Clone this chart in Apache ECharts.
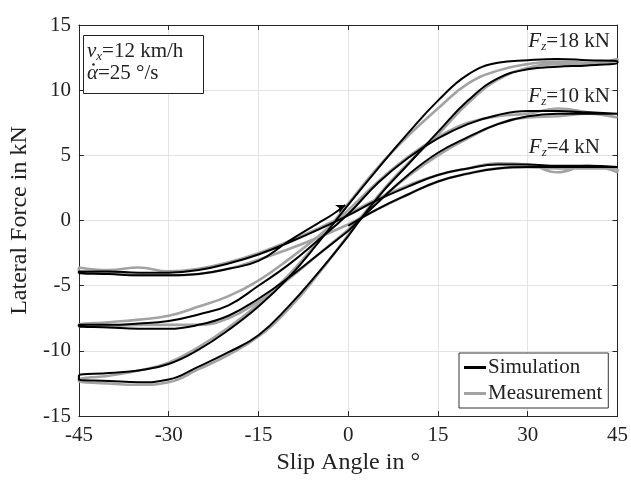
<!DOCTYPE html>
<html>
<head>
<meta charset="utf-8">
<script src="https://cdn.jsdelivr.net/npm/echarts@6/dist/echarts.min.js"></script>
<style>html,body{margin:0;padding:0;background:#fff}#c{width:631px;height:480px}</style>
</head>
<body>
<div id="c"></div>
<script>
// slip angle grid (deg)
const alpha = [-45,-40,-35,-30,-25,-20,-15,-10,-5,0,5,10,15,20,25,30,35,40,45];
// Simulation, Fz = 18 kN
const sim18Upper = [-11.9,-11.7,-11.5,-11.0,-9.9,-8.4,-6.6,-4.4,-1.7,1.2,4.0,6.7,9.2,11.2,12.1,12.3,12.4,12.3,12.2];
const sim18Lower = [-12.2,-12.3,-12.4,-12.2,-11.2,-10.1,-8.8,-6.6,-4.0,-1.2,1.8,4.3,6.8,9.2,10.9,11.6,11.8,11.9,12.1];
// Simulation, Fz = 10 kN
const sim10Upper = [-8.0,-8.0,-7.9,-7.7,-7.2,-6.5,-5.0,-3.4,-1.5,0.5,2.9,4.8,6.3,7.4,8.1,8.4,8.4,8.3,8.2];
const sim10Lower = [-8.1,-8.2,-8.3,-8.3,-8.0,-7.3,-6.0,-4.4,-2.6,-0.8,1.4,3.5,5.2,6.4,7.4,8.0,8.2,8.2,8.2];
// Simulation, Fz = 4 kN
const sim4Upper = [-3.9,-3.9,-4.0,-4.0,-3.8,-3.3,-2.6,-1.7,-0.7,0.4,1.6,2.6,3.5,4.0,4.3,4.3,4.2,4.2,4.1];
const sim4Lower = [-4.0,-4.1,-4.2,-4.2,-4.1,-3.7,-3.1,-2.3,-1.4,-0.4,0.9,2.0,3.0,3.6,4.0,4.1,4.1,4.1,4.1];
// final run-in of the 4 kN simulation (ends with arrow)
const sim4TailX = [-10,-5,-2.5,-0.5];
const sim4TailY = [-1.6,-0.2,0.5,1.2];
// Measurement, Fz = 18 kN
const meas18Upper = [-12.2,-11.9,-11.5,-10.9,-9.7,-8.2,-6.4,-4.2,-1.6,1.3,4.1,6.5,8.6,10.5,11.5,12.0,12.2,12.1,12.4];
const meas18Lower = [-12.3,-12.5,-12.6,-12.4,-11.4,-10.3,-8.9,-6.8,-4.1,-1.1,1.9,4.4,6.6,9.0,10.8,11.7,12.0,12.0,12.3];
// Measurement, Fz = 10 kN
const meas10Upper = [-8.0,-7.8,-7.6,-7.3,-6.6,-5.8,-4.6,-3.0,-1.2,0.8,3.0,4.9,6.4,7.5,8.0,8.2,8.6,8.3,7.9];
const meas10Lower = [-8.1,-8.1,-8.0,-8.0,-8.0,-7.5,-6.2,-4.5,-2.6,-0.7,1.5,3.4,5.0,6.3,7.4,7.9,8.0,8.2,7.9];
// Measurement, Fz = 4 kN
const meas4Upper = [-3.6,-3.8,-3.6,-3.9,-3.7,-3.2,-2.5,-1.6,-0.6,0.5,1.7,2.7,3.5,4.0,4.4,4.3,3.7,4.2,3.7];
const meas4Lower = [-4.0,-4.0,-4.2,-4.2,-4.1,-3.7,-3.0,-2.2,-1.3,-0.3,0.9,2.0,3.0,3.6,4.0,4.1,4.0,4.0,3.9];

const xTicks = {min:-45, max:45, interval:15};
const yTicks = {min:-15, max:15, interval:5};

const FONT = '"Liberation Serif", "DejaVu Serif", serif';
const iZero = alpha.indexOf(0);

function pts(xs, ys, from, to) {
  const out = [];
  if (from <= to) { for (let i = from; i <= to; i++) out.push([xs[i], ys[i]]); }
  else { for (let i = from; i >= to; i--) out.push([xs[i], ys[i]]); }
  return out;
}
// 0 -> +45 on lower, +45 -> -45 on upper, -45 -> 0 on lower
function loop(lower, upper, endIdx) {
  const n = alpha.length - 1;
  return [].concat(
    pts(alpha, lower, iZero, n),
    pts(alpha, upper, n, 0),
    pts(alpha, lower, 0, endIdx === undefined ? iZero : endIdx)
  );
}

const SIM_C = '#000000', MEAS_C = '#a3a3a3';
function mkLine(name, data, color, width, extra) {
  return Object.assign({
    name: name, type: 'line', data: data, showSymbol: false, symbol: 'none',
    smooth: 0.45, clip: true, color: color,
    lineStyle: {color: color, width: width}, z: name === 'Simulation' ? 3 : 2
  }, extra || {});
}

const sim4Path = loop(sim4Lower, sim4Upper, alpha.indexOf(-15))
  .concat(sim4TailX.map((x, i) => [x, sim4TailY[i]]));
const tailEnd = [sim4TailX[sim4TailX.length - 1], sim4TailY[sim4TailY.length - 1]];

const series = [
  mkLine('Measurement', loop(meas18Lower, meas18Upper), MEAS_C, 2.6),
  mkLine('Measurement', loop(meas10Lower, meas10Upper), MEAS_C, 2.6),
  mkLine('Measurement', loop(meas4Lower, meas4Upper), MEAS_C, 2.6),
  mkLine('Simulation', loop(sim18Lower, sim18Upper), SIM_C, 2),
  mkLine('Simulation', loop(sim10Lower, sim10Upper), SIM_C, 2),
  mkLine('Simulation', sim4Path, SIM_C, 2, {
    markPoint: {
      silent: true,
      data: [{coord: tailEnd, symbol: 'arrow', symbolSize: [7, 9], symbolRotate: -62,
              itemStyle: {color: SIM_C}, label: {show: false}}]
    }
  })
];

function richLabel(text) {
  return {
    text: text,
    rich: {
      it: {fontFamily: FONT, fontStyle: 'italic', fontSize: 21, lineHeight: 22, fill: '#222'},
      sub: {fontFamily: FONT, fontStyle: 'italic', fontSize: 13, lineHeight: 22, padding: [10, 0, 0, 0], fill: '#222'},
      n: {fontFamily: FONT, fontSize: 21, lineHeight: 22, fill: '#222'}
    }
  };
}

const axisLineStyle = {color: '#262626', width: 1};
const chart = echarts.init(document.getElementById('c'), null, {renderer: 'canvas'});
chart.setOption({
  animation: false,
  backgroundColor: '#fff',
  grid: {left: 74, right: 13, top: 25, bottom: 61},
  xAxis: [
    Object.assign({type: 'value', position: 'bottom',
      name: 'Slip Angle in °', nameLocation: 'middle', nameGap: 34,
      nameTextStyle: {fontFamily: FONT, fontSize: 24, color: '#222'},
      axisLine: {onZero: false, lineStyle: axisLineStyle},
      axisTick: {inside: true, length: 5, lineStyle: axisLineStyle},
      axisLabel: {fontFamily: FONT, fontSize: 21, color: '#222', margin: 9},
      splitLine: {show: true, lineStyle: {color: '#e3e3e3', width: 1}}}, xTicks),
    Object.assign({type: 'value', position: 'top',
      axisLine: {onZero: false, lineStyle: axisLineStyle},
      axisTick: {inside: true, length: 5, lineStyle: axisLineStyle},
      axisLabel: {show: false}, splitLine: {show: false}}, xTicks)
  ],
  yAxis: [
    Object.assign({type: 'value', position: 'left',
      name: 'Lateral Force in kN', nameLocation: 'middle', nameGap: 43,
      nameTextStyle: {fontFamily: FONT, fontSize: 24, color: '#222'},
      axisLine: {onZero: false, lineStyle: axisLineStyle},
      axisTick: {inside: true, length: 5, lineStyle: axisLineStyle},
      axisLabel: {fontFamily: FONT, fontSize: 21, color: '#222', margin: 8},
      splitLine: {show: true, lineStyle: {color: '#e3e3e3', width: 1}}}, yTicks),
    Object.assign({type: 'value', position: 'right',
      axisLine: {onZero: false, lineStyle: axisLineStyle},
      axisTick: {inside: true, length: 5, lineStyle: axisLineStyle},
      axisLabel: {show: false}, splitLine: {show: false}}, yTicks)
  ],
  legend: {
    data: ['Simulation', 'Measurement'],
    orient: 'vertical', left: 459, top: 353,
    backgroundColor: '#fff', borderColor: '#333', borderWidth: 1, borderRadius: 0,
    padding: [4, 6, 4, 5], itemGap: 5, itemWidth: 22, itemHeight: 3, icon: 'rect',
    textStyle: {fontFamily: FONT, fontSize: 21, color: '#222', padding: [0, 0, 0, -3]}
  },
  graphic: [
    {type: 'rect', left: 83, top: 35, z: 10,
     shape: {width: 120, height: 58},
     style: {fill: '#fff', stroke: '#222', lineWidth: 1}},
    {type: 'text', left: 87, top: 40, z: 11,
     style: richLabel('{it|v}{sub|x}{n|=12 km/h}\n{it|α}{n|=25 °/s}')},
    {type: 'circle', z: 12, shape: {cx: 93.5, cy: 64.5, r: 1.3}, style: {fill: '#222'}},
    {type: 'text', right: 21, top: 30, z: 11, style: richLabel('{it|F}{sub|z}{n|=18 kN}')},
    {type: 'text', right: 21, top: 85, z: 11, style: richLabel('{it|F}{sub|z}{n|=10 kN}')},
    {type: 'text', right: 31, top: 136, z: 11, style: richLabel('{it|F}{sub|z}{n|=4 kN}')}
  ],
  series: series
});
</script>
</body>
</html>
